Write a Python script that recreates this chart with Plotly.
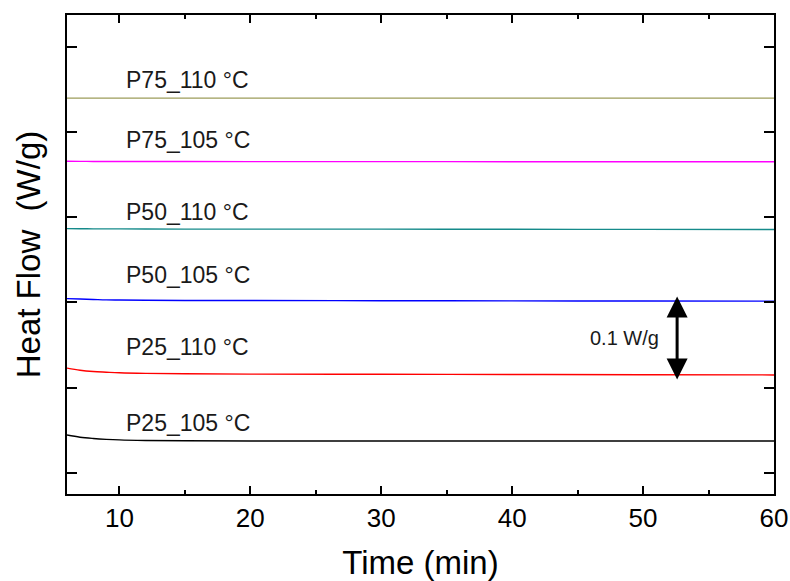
import plotly.graph_objects as go

# Data
time_min = [6, 7, 8, 9, 10, 12, 15, 20, 30, 40, 50, 60]
p25_105 = [0.0445, 0.0420, 0.0405, 0.0395, 0.0388, 0.0382, 0.0378, 0.0376, 0.0376, 0.0375, 0.0375, 0.0375]
p25_110 = [0.1230, 0.1205, 0.1190, 0.1182, 0.1175, 0.1168, 0.1163, 0.1160, 0.1158, 0.1155, 0.1152, 0.1150]
p50_105 = [0.2045, 0.2040, 0.2035, 0.2030, 0.2028, 0.2025, 0.2023, 0.2022, 0.2020, 0.2018, 0.2017, 0.2015]
p50_110 = [0.2865, 0.2864, 0.2863, 0.2862, 0.2862, 0.2861, 0.2860, 0.2860, 0.2859, 0.2858, 0.2856, 0.2855]
p75_105 = [0.3655, 0.3654, 0.3653, 0.3653, 0.3652, 0.3652, 0.3652, 0.3651, 0.3651, 0.3650, 0.3650, 0.3650]
p75_110 = [0.4395] * 12

series_names = ["P25_105 °C", "P25_110 °C", "P50_105 °C", "P50_110 °C", "P75_105 °C", "P75_110 °C"]
series_values = [p25_105, p25_110, p50_105, p50_110, p75_105, p75_110]
series_colors = ["#000000", "#FF0000", "#0000FF", "#158A8A", "#FF00FF", "#9C9C5A"]
label_x = 10.35
label_y = [0.0586, 0.1477, 0.232, 0.306, 0.3904, 0.4607]

scale_text = "0.1 W/g"
scale_x = 52.6
scale_y0 = 0.108
scale_y1 = 0.207

x_ticks = [10, 20, 30, 40, 50, 60]
y_ticks = [0.0, 0.1, 0.2, 0.3, 0.4, 0.5]

fig = go.Figure()
for name, vals, col in zip(series_names, series_values, series_colors):
    fig.add_trace(go.Scatter(x=time_min, y=vals, mode="lines", name=name,
                             line=dict(color=col, width=1.4, shape="spline")))

annotations = []
for name, ly in zip(series_names, label_y):
    annotations.append(dict(x=label_x, y=ly, xref="x", yref="y", text=name,
                            showarrow=False, xanchor="left", yanchor="middle",
                            font=dict(family="Liberation Sans, Arial", size=23, color="#1a1a1a")))

# double-headed scale arrow
annotations.append(dict(x=scale_x, y=scale_y1, ax=scale_x, ay=scale_y0,
                        xref="x", yref="y", axref="x", ayref="y", text="",
                        showarrow=True, arrowhead=2, startarrowhead=2,
                        arrowside="end+start", arrowwidth=3, arrowsize=1.4,
                        startarrowsize=1.4, arrowcolor="black"))
annotations.append(dict(x=51.35, y=(scale_y0 + scale_y1) / 2 + 0.001, xref="x", yref="y",
                        text=scale_text, showarrow=False, xanchor="right", yanchor="middle",
                        font=dict(family="Liberation Sans, Arial", size=20, color="#1a1a1a")))

fig.update_layout(
    width=790, height=581,
    margin=dict(l=67, r=16, t=15, b=87, autoexpand=False),
    paper_bgcolor="white", plot_bgcolor="white",
    showlegend=False,
    annotations=annotations,
    xaxis=dict(range=[6, 60], tickvals=x_ticks, ticks="inside", ticklen=8, tickwidth=2,
               tickcolor="black", showline=True, linewidth=2, linecolor="black",
               mirror="ticks", showgrid=False, zeroline=False, automargin=False,
               minor=dict(tickvals=[15, 25, 35, 45, 55], ticks="inside", ticklen=4,
                          tickwidth=2, tickcolor="black", showgrid=False),
               tickfont=dict(family="Liberation Sans, Arial", size=26, color="black"),
               title=dict(text="Time (min)", standoff=19,
                          font=dict(family="Liberation Sans, Arial", size=33, color="black"))),
    yaxis=dict(range=[-0.0246, 0.537], tickvals=y_ticks, ticks="inside", ticklen=10, tickwidth=2,
               tickcolor="black", showline=True, linewidth=2, linecolor="black",
               mirror="ticks", showgrid=False, zeroline=False, showticklabels=False,
               automargin=False,
               title=dict(text="Heat Flow  (W/g)", standoff=14,
                          font=dict(family="Liberation Sans, Arial", size=33, color="black"))),
)

fig.write_html("out.html")
